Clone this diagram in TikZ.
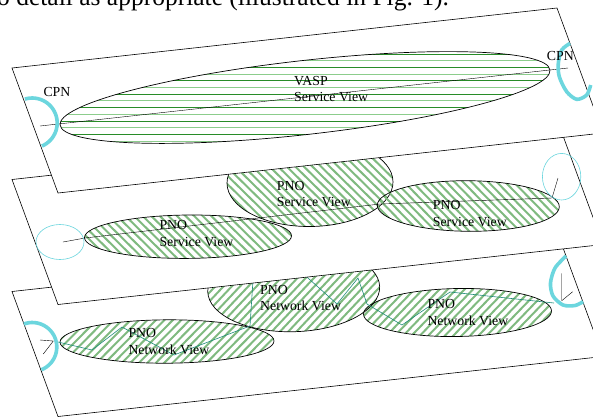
\documentclass[tikz,border=0pt]{standalone}
\usepackage{fontspec}
\setmainfont{Liberation Serif}

\definecolor{cpncyan}{RGB}{108,214,222}
\definecolor{hatchgreen}{RGB}{128,186,128}
\definecolor{vaspdark}{RGB}{40,140,40}
\definecolor{vasplight}{RGB}{140,205,140}
\definecolor{netteal}{RGB}{30,140,120}

\tikzset{
  plane/.style={draw=black, fill=white, line width=0.6pt},
  view/.style={draw=black, line width=0.7pt},
  stripe/.style={hatchgreen, line width=2pt},
  vaspdarkline/.style={vaspdark, line width=0.8pt},
  vasplightline/.style={vasplight, line width=1.1pt},
  cpnarc/.style={cpncyan, line width=3.6pt},
  cpnring/.style={cpncyan, line width=0.6pt},
  netpath/.style={netteal, line width=0.6pt},
  lbl/.style={inner sep=0pt, anchor=north west, align=left, font=\fontsize{13.8}{16.5}\selectfont},
}

\begin{document}
\begin{tikzpicture}[x=1pt, y=-1pt]
    \useasboundingbox (0,0) rectangle (593,416);

    % Network view layer (bottom)
    \draw[plane] (12,291.5) -- (557,231.5) -- (603,356.5) -- (58,416.5) -- cycle;
    \foreach \cx/\cy/\rx/\ry/\rot in {167/341.5/107/21.7/0.3, 293.7/289.2/86/42.5/1.7, 457.5/312.5/94/24/1} {
        \begin{scope}[shift={(\cx,\cy)}, rotate=\rot]
            \clip (0,0) ellipse [x radius=\rx, y radius=\ry];
            \foreach \s in {-160,-151.5,...,160}
                \draw[stripe] (\s-50,50) -- ++(100,-100);
        \end{scope}
        \draw[view, shift={(\cx,\cy)}, rotate=\rot] (0,0) ellipse [x radius=\rx, y radius=\ry];
    }
    \coordinate (nwL) at (58,342);
    \coordinate (nwR) at (554,303);
    \draw[netpath] (nwL) -- (92,350) -- (122,327) -- (174,355) -- (250,326) -- (253,280)
        -- (299,270) -- (337,304) -- (358,278) -- (367,304) -- (402,325) -- (450,292) -- (nwR);
    \node[lbl] (pnoNetL) at (128.3,328.2) {PNO\\Network View};
    \node[lbl] (pnoNetM) at (260,284.9) {PNO\\Network View};
    \node[lbl] (pnoNetR) at (427.3,299.2) {PNO\\Network View};

    % CPN ends, network layer
    \draw[cpnarc] plot[domain=-68:110, samples=30] ({32.3+24.5*cos(\x)},{347-24.5*sin(\x)});
    \draw (40,340) -- (53.3,341) -- (43.3,354);
    \draw[cpnarc] plot[smooth] coordinates {(566,256) (555,268) (550.5,283) (553,296) (563,305) (575,305.5) (583,301.7)};
    \draw (561.7,273.3) -- (561.7,300.7) -- (572.7,291.7);

    % Service view layer (middle)
    \draw[plane] (12,179.5) -- (557,119.5) -- (603,244.5) -- (58,304.5) -- cycle;
    \foreach \cx/\cy/\rx/\ry/\rot in {188/236.7/103.5/21.7/0.5, 310/182.5/83/44/0.5, 468.3/206/91/25.3/-0.5} {
        \begin{scope}[shift={(\cx,\cy)}, rotate=\rot]
            \clip (0,0) ellipse [x radius=\rx, y radius=\ry];
            \foreach \s in {-160,-151.5,...,160}
                \draw[stripe] (\s-50,-50) -- ++(100,100);
        \end{scope}
        \draw[view, shift={(\cx,\cy)}, rotate=\rot] (0,0) ellipse [x radius=\rx, y radius=\ry];
    }
    \coordinate (svL) at (63,242);
    \coordinate (svR) at (558,178);
    \draw (svL) -- (85,238) -- (380,204) -- (552,198) -- (svR);
    \draw[cpnring] (60,242) ellipse [x radius=24, y radius=17.5];
    \draw[cpnring] (561.6,176.7) ellipse [x radius=19.2, y radius=23.3];
    \node[lbl] (pnoSvL) at (159.3,220.2) {PNO\\Service View};
    \node[lbl] (pnoSvM) at (276.7,180.9) {PNO\\Service View};
    \node[lbl] (pnoSvR) at (432.7,200.2) {PNO\\Service View};

    % VASP layer (top)
    \draw[plane] (12,68) -- (557,8) -- (603,133) -- (58,193) -- cycle;
    \begin{scope}
        \clip[shift={(305,97.5)}, rotate=6.4] (0,0) ellipse [x radius=246.5, y radius=37];
        \foreach \y in {54,67.4,...,146}
            \draw[vaspdarkline] (40,\y) -- (570,\y);
        \foreach \y in {60.7,74.1,...,146}
            \draw[vasplightline] (40,\y) -- (570,\y);
    \end{scope}
    \draw[view, shift={(305,97.5)}, rotate=6.4] (0,0) ellipse [x radius=246.5, y radius=37];
    \coordinate (vaL) at (40,126);
    \coordinate (vaR) at (568,68);
    \draw (vaL) -- (vaR);
    \node[lbl] (vasp) at (294,75.9) {VASP\\Service View};

    % CPN ends, VASP layer
    \draw[cpnarc] plot[domain=-67:107, samples=30] ({32.2+25*cos(\x)},{123-25*sin(\x)});
    \draw[cpnarc] plot[smooth] coordinates {(570,43.3) (561.7,50) (558.3,63.3) (559.3,76.7) (566.7,91.7) (576.7,99.3) (586.7,95) (590.7,85)};
    \node[lbl] (cpnL) at (43.3,87.6) {CPN};
    \node[lbl] (cpnR) at (546.7,50.9) {CPN};

    % Running text above the figure
    \node[anchor=base west, inner sep=0pt, font=\fontsize{25.5}{30}\selectfont] (bodytext) at (-3,5.8)
        {o detail as appropriate (illustrated in Fig. 1).};
\end{tikzpicture}
\end{document}
